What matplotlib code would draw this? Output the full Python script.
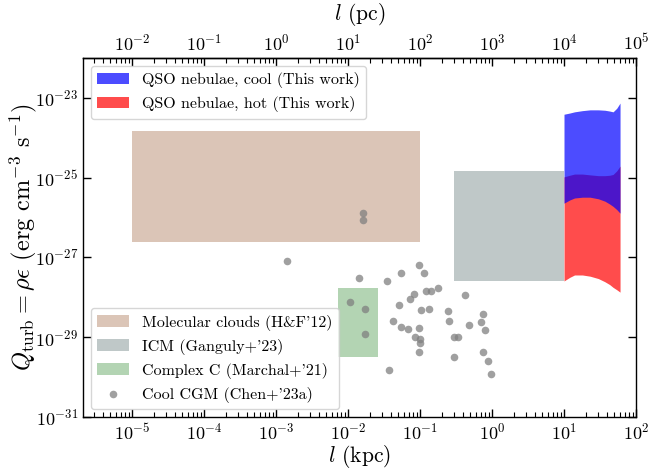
import numpy as np
import matplotlib
matplotlib.use("Agg")
import matplotlib.pyplot as plt

plt.rcParams.update({
    "font.family": "serif",
    "font.serif": ["cmr10"],
    "mathtext.fontset": "cm",
    "axes.formatter.use_mathtext": True,
    "axes.linewidth": 1.0,
})

# Turbulent heating rate vs. length scale
# Molecular clouds (H&F'12): l range [kpc], Q range [erg cm^-3 s^-1]
mc_l = [1e-5, 1e-1]
mc_q = [2.5e-27, 1.5e-24]

# ICM (Ganguly+'23)
icm_l = [0.3, 10.0]
icm_q = [2.5e-28, 1.5e-25]

# Complex C (Marchal+'21)
cc_l = [7.2e-3, 0.026]
cc_q = [3.2e-30, 1.7e-28]

# QSO nebulae (this work), log10 of band edges
qso_l = [10, 12, 14, 18, 23, 30, 37, 43, 48, 54, 60]
cool_hi = [-23.41, -23.38, -23.35, -23.32, -23.30, -23.30, -23.31, -23.33, -23.35, -23.26, -23.13]
cool_lo = [-25.64, -25.56, -25.51, -25.49, -25.49, -25.53, -25.59, -25.66, -25.72, -25.80, -25.89]
hot_hi = [-24.98, -24.94, -24.91, -24.91, -24.93, -24.95, -24.95, -24.94, -24.92, -24.83, -24.71]
hot_lo = [-27.59, -27.50, -27.44, -27.44, -27.47, -27.53, -27.61, -27.68, -27.75, -27.81, -27.87]

# Cool CGM (Chen+'23a), log10 values
cgm_logl = [-1.79, -1.79, -2.84, -1.84, -1.46, -1.26, -1.01, -0.95, -1.97, -1.77,
            -1.77, -1.29, -1.14, -1.08, -0.92, -0.84, -0.75, -0.37, -0.98, -0.88,
            -0.61, -0.60, -1.38, -1.26, -1.16, -1.02, -1.07, -1.00, -1.00, -1.01,
            -0.53, -0.47, -0.32, -0.13, -0.15, -0.10, -0.53, -0.13, -0.05, -0.01,
            -1.43]
cgm_logq = [-25.89, -26.05, -27.10, -27.52, -27.58, -27.38, -27.18, -27.39, -28.11, -28.30,
            -28.92, -28.19, -28.04, -27.92, -27.84, -27.84, -27.77, -27.93, -28.31, -28.29,
            -28.35, -28.59, -28.60, -28.74, -28.79, -28.77, -29.00, -29.05, -29.14, -29.37,
            -28.99, -28.99, -28.70, -28.43, -28.62, -28.83, -29.50, -29.38, -29.60, -29.91,
            -29.81]

fig = plt.figure(figsize=(6.49, 4.70), dpi=100)
ax = fig.add_axes([0.128, 0.1128, 0.852, 0.7638])

h_mc = ax.fill_between(mc_l, mc_q[0], mc_q[1], color="#dbc5b7", lw=0,
                       label="Molecular clouds (H&F'12)")
h_icm = ax.fill_between(icm_l, icm_q[0], icm_q[1], color="#bfc8c8", lw=0,
                        label="ICM (Ganguly+'23)")
h_cc = ax.fill_between(cc_l, cc_q[0], cc_q[1], color="#b3d4b3", lw=0,
                       label="Complex C (Marchal+'21)")

h_hot = ax.fill_between(qso_l, 10**np.array(hot_lo), 10**np.array(hot_hi),
                        color="red", alpha=0.7, lw=0,
                        label="QSO nebulae, hot (This work)")
h_cool = ax.fill_between(qso_l, 10**np.array(cool_lo), 10**np.array(cool_hi),
                         color="blue", alpha=0.7, lw=0,
                         label="QSO nebulae, cool (This work)")

h_cgm = ax.scatter(10**np.array(cgm_logl), 10**np.array(cgm_logq), s=30,
                   color="grey", alpha=0.75, lw=0, label="Cool CGM (Chen+'23a)")

ax.set_xscale("log")
ax.set_yscale("log")
ax.set_xlim(2.1e-6, 1e2)
ax.set_ylim(1e-31, 1e-22)
ax.set_yticks([1e-31, 1e-29, 1e-27, 1e-25, 1e-23])
ax.yaxis.set_minor_locator(matplotlib.ticker.NullLocator())

ax.tick_params(which="both", direction="in", labelsize=13, right=True, top=False)
ax.tick_params(which="major", length=6, width=1)
ax.tick_params(which="minor", length=3.5, width=0.8)

ax.set_xlabel("$l$ (kpc)", fontsize=15.5, labelpad=0)
ax.set_ylabel(r"$Q_{\rm turb} = \rho\epsilon$ (erg cm$^{-3}$ s$^{-1}$)", fontsize=17.5, labelpad=-3)

# top axis in parsec
secax = ax.secondary_xaxis("top", functions=(lambda x: x * 1e3, lambda x: x / 1e3))
secax.tick_params(which="both", direction="in", labelsize=13)
secax.tick_params(which="major", length=6, width=1)
secax.tick_params(which="minor", length=3.5, width=0.8)
secax.set_xlabel("$l$ (pc)", fontsize=15.5, labelpad=9)

leg1 = ax.legend(handles=[h_cool, h_hot], loc="upper left", fontsize=11.5)
ax.add_artist(leg1)
ax.legend(handles=[h_mc, h_icm, h_cc, h_cgm], loc="lower left", fontsize=11.5)

fig.savefig("out.png", dpi=100)
